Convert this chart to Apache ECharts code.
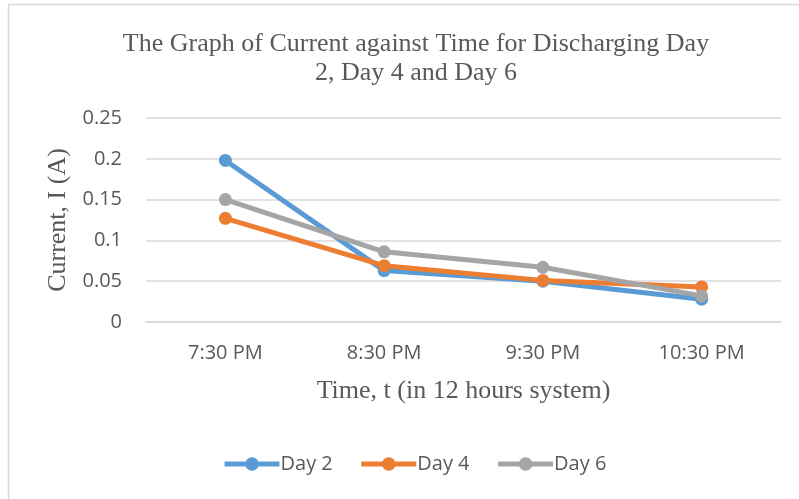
<!DOCTYPE html>
<html>
<head>
<meta charset="utf-8">
<script src="https://cdn.jsdelivr.net/npm/echarts@6/dist/echarts.min.js"></script>
<style>html,body{margin:0;padding:0;background:#fff}#c{width:799px;height:499px}</style>
</head>
<body>
<div id="c"></div>
<script>
const categories = ['7:30 PM', '8:30 PM', '9:30 PM', '10:30 PM'];
const day2 = [0.198, 0.063, 0.050, 0.028];
const day4 = [0.127, 0.069, 0.051, 0.043];
const day6 = [0.150, 0.086, 0.067, 0.032];
const seriesNames = ['Day 2', 'Day 4', 'Day 6'];
const colors = ['#5b9bd5', '#ed7d31', '#a5a5a5'];

const chart = echarts.init(document.getElementById('c'), null, {renderer: 'canvas'});
const sans = 'Open Sans';
const serif = 'Liberation Serif';
const mk = (name, data, color) => ({
  name: name, type: 'line', data: data,
  symbol: 'circle', symbolSize: 13,
  lineStyle: {width: 5, color: color},
  itemStyle: {color: color},
  emphasis: {disabled: true},
  animation: false
});
chart.setOption({
  animation: false,
  backgroundColor: '#fff',
  graphic: [{
    type: 'rect', silent: true,
    shape: {x: 8.5, y: 4.5, width: 900, height: 600},
    style: {fill: 'none', stroke: '#d9d9d9', lineWidth: 1.5}
  }],
  title: {
    text: 'The Graph of Current against Time for Discharging Day\n2, Day 4 and Day 6',
    left: 411, top: 25, textAlign: 'center',
    textStyle: {fontFamily: serif, fontSize: 26, fontWeight: 'normal', color: '#595959', lineHeight: 29}
  },
  legend: {
    data: seriesNames,
    left: 217, top: 449,
    itemWidth: 55, itemHeight: 17, itemGap: 26,
    lineStyle: {width: 5},
    textStyle: {fontFamily: sans, fontSize: 20, color: '#595959', padding: [0,0,0,-4]}
  },
  grid: {left: 146, right: 18, top: 118, bottom: 177, containLabel: false},
  xAxis: {
    type: 'category', data: categories, boundaryGap: true,
    axisLine: {show: true, lineStyle: {color: '#d9d9d9', width: 1.5}},
    axisTick: {show: false},
    axisLabel: {fontFamily: sans, fontSize: 20, color: '#595959', margin: 21},
    name: 'Time, t (in 12 hours system)', nameLocation: 'middle', nameGap: 56,
    nameTextStyle: {fontFamily: serif, fontSize: 26, color: '#595959'}
  },
  yAxis: {
    type: 'value', min: 0, max: 0.25, interval: 0.05,
    axisLine: {show: false}, axisTick: {show: false},
    splitLine: {lineStyle: {color: '#d9d9d9', width: 1.5}},
    axisLabel: {fontFamily: sans, fontSize: 20, color: '#595959', margin: 24},
    name: 'Current, I (A)', nameLocation: 'middle', nameGap: 72, nameRotate: 90,
    nameTextStyle: {fontFamily: serif, fontSize: 26, color: '#595959'}
  },
  series: [mk(seriesNames[0], day2, colors[0]), mk(seriesNames[1], day4, colors[1]), mk(seriesNames[2], day6, colors[2])]
});
</script>
</body>
</html>
